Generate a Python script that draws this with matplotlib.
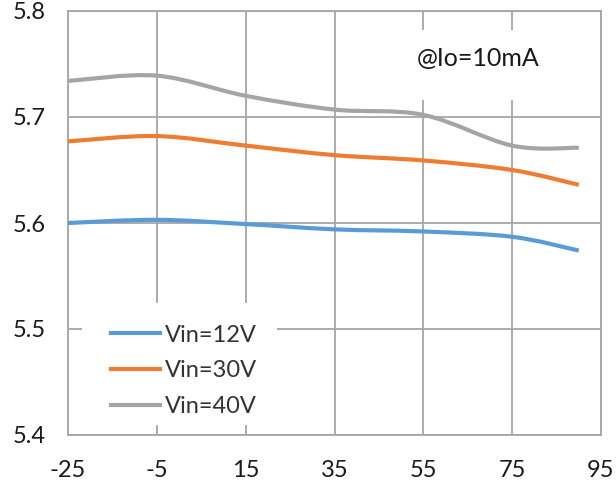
import matplotlib
matplotlib.use("Agg")
import matplotlib.pyplot as plt
from matplotlib.path import Path
from matplotlib.patches import PathPatch, Rectangle
from matplotlib.lines import Line2D
import numpy as np

# ---- data ----
temps = [-25, -5, 15, 35, 55, 75, 90]
vin12 = [5.600, 5.603, 5.599, 5.594, 5.592, 5.587, 5.574]
vin30 = [5.677, 5.682, 5.673, 5.664, 5.659, 5.650, 5.636]
vin40 = [5.734, 5.739, 5.720, 5.707, 5.702, 5.673, 5.671]
series_labels = ["Vin=12V", "Vin=30V", "Vin=40V"]
series_colors = ["#5B9BD5", "#ED7D31", "#A5A5A5"]
xticks = [-25, -5, 15, 35, 55, 75, 95]
yticks = [5.4, 5.5, 5.6, 5.7, 5.8]
note = "@Io=10mA"

plt.rcParams['font.family'] = ['Lato', 'DejaVu Sans']
plt.rcParams['axes.unicode_minus'] = False

fig = plt.figure(figsize=(6.16, 4.83), dpi=100)
ax = fig.add_axes([68/616, 48/483, 533/616, 424/483])
ax.set_xlim(-25, 95)
ax.set_ylim(5.4, 5.8)
ax.set_xticks(xticks)
ax.set_xticklabels([str(v) for v in xticks])
ax.set_yticks(yticks)
ax.set_yticklabels([f"{v:.1f}" for v in yticks])
ax.tick_params(length=0, labelsize=17, labelcolor='#1a1a1a')
ax.tick_params(axis='x', pad=18)
ax.tick_params(axis='y', pad=16)
ax.grid(True, color='#A6A6A6', linewidth=1.3)
ax.set_axisbelow(True)
for s in ax.spines.values():
    s.set_color('#A6A6A6')
    s.set_linewidth(1.3)


def smooth_path(xs, ys):
    pts = np.column_stack([xs, ys]).astype(float)
    n = len(pts)
    verts = [pts[0]]
    codes = [Path.MOVETO]
    for i in range(n - 1):
        p0 = pts[i - 1] if i > 0 else pts[i]
        p1 = pts[i]
        p2 = pts[i + 1]
        p3 = pts[i + 2] if i + 2 < n else pts[i + 1]
        c1 = p1 + (p2 - p0) / 6.0
        c2 = p2 - (p3 - p1) / 6.0
        verts += [c1, c2, p2]
        codes += [Path.CURVE4] * 3
    return Path(verts, codes)

handles = []
for ys, lab, col in zip([vin12, vin30, vin40], series_labels, series_colors):
    patch = PathPatch(smooth_path(temps, ys), facecolor='none', edgecolor=col,
                      linewidth=3.0, capstyle='butt', joinstyle='round', zorder=3)
    ax.add_patch(patch)
    handles.append(Line2D([], [], color=col, linewidth=3.0, label=lab))

# white boxes behind legend and note
ax.add_patch(Rectangle((0.026, 0.024), 0.366, 0.287, transform=ax.transAxes,
                       facecolor='white', edgecolor='none', zorder=2))
ax.add_patch(Rectangle((0.62, 0.79), 0.30, 0.165, transform=ax.transAxes,
                       facecolor='white', edgecolor='none', zorder=2))

ax.text(0.769, 0.889, note, transform=ax.transAxes, ha='center', va='center',
        fontsize=18, color='#1a1a1a', zorder=4)

leg = ax.legend(handles=handles, loc='upper left', bbox_to_anchor=(0.045, 0.305),
                frameon=False, fontsize=17, handlelength=2.1, handletextpad=0.2,
                labelspacing=0.62, borderpad=0.3)
for t in leg.get_texts():
    t.set_color('#333333')

fig.savefig("out.png", dpi=100)
